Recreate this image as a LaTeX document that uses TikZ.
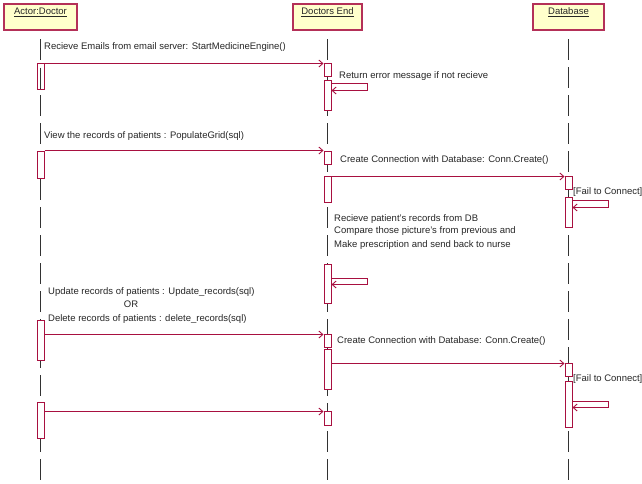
\documentclass[tikz,border=0pt]{standalone}
\usepackage{fontspec}
\setmainfont{Liberation Sans}
\usetikzlibrary{arrows.meta,calc}
\definecolor{rose}{RGB}{168,16,64}
\definecolor{headline}{RGB}{180,48,88}
\definecolor{headfill}{RGB}{255,255,204}
\definecolor{lifegray}{RGB}{50,50,50}
\begin{document}
\begin{tikzpicture}[x=1pt,y=-1pt,
  head/.style={draw=headline, line width=1.6pt, fill=headfill, minimum height=26pt, inner sep=0pt},
  headtxt/.style={font=\fontsize{9.5}{11}\selectfont, text=black!85, inner sep=0pt},
  life/.style={draw=lifegray, line width=1pt, dash pattern=on 21pt off 7pt},
  act/.style={draw=rose, fill=white, line width=1pt, minimum width=7pt, inner sep=0pt},
  msg/.style={draw=rose, line width=1.2pt, -{Straight Barb[length=4pt,width=7pt,line width=0.9pt]}},
  lbl/.style={font=\fontsize{9.5}{11}\selectfont, text=black!85, anchor=west, inner sep=0pt},
]
\useasboundingbox[fill=white] (0,0) rectangle (642,483);

% headers
\node[head, minimum width=73pt] (hA) at (40.5,17) {};
\node[head, minimum width=69pt] (hD) at (327.5,17) {};
\node[head, minimum width=71pt] (hB) at (568.5,17) {};
\node[headtxt] (tA) at (40.5,12.5) {\underline{Actor:Doctor}};
\node[headtxt] (tD) at (327.5,12.5) {\underline{Doctors End}};
\node[headtxt] (tB) at (568.5,12.5) {\underline{Database}};

% lifelines
\coordinate (topA) at (40.5,39);  \coordinate (botA) at (40.5,483);
\coordinate (topD) at (327.5,39); \coordinate (botD) at (327.5,483);
\coordinate (topB) at (568.5,39); \coordinate (botB) at (568.5,483);
\draw[life] (topA) -- (botA);
\draw[life] (topD) -- (botD);
\draw[life] (topB) -- (botB);

% activations: actor
\node[act, minimum height=26] (A1) at (40.5,76) {};
\node[act, minimum height=27] (A2) at (40.5,164.5) {};
\node[act, minimum height=40] (A3) at (40.5,340) {};
\node[act, minimum height=36] (A4) at (40.5,420) {};
\draw[lifegray, line width=0.9pt] ($(A1.north)+(0,5)$) -- ($(A1.south)+(0,-1)$);
% activations: doctors end
\node[act, minimum height=13] (D1) at (327.5,69.5) {};
\node[act, minimum height=30] (D2) at (327.5,95) {};
\node[act, minimum height=13] (D3) at (327.5,157.5) {};
\node[act, minimum height=26] (D4) at (327.5,189) {};
\node[act, minimum height=39] (D5) at (327.5,283.5) {};
\node[act, minimum height=13] (D6) at (327.5,340.5) {};
\node[act, minimum height=40] (D7) at (327.5,369) {};
\node[act, minimum height=14] (D8) at (327.5,418) {};
% activations: database
\node[act, minimum height=13] (B1) at (568.5,182.5) {};
\node[act, minimum height=30] (B2) at (568.5,212) {};
\node[act, minimum height=13] (B3) at (568.5,369.5) {};
\node[act, minimum height=46] (B4) at (568.5,404) {};

% messages
\draw[msg] ($(A1.north east)+(0,1)$) -- ($(D1.north west)+(0,1)$);
\draw[msg] (A2.north east) -- (D3.north west);
\draw[msg] ($(D4.north east)+(0,1)$) -- ($(B1.north west)+(0,1)$);
\draw[msg] ($(A3.east |- D6.north)+(0,1)$) -- ($(D6.north west)+(0,1)$);
\draw[msg] ($(D7.east |- B3.north)+(0,1)$) -- ($(B3.north west)+(0,1)$);
\draw[msg] ($(A4.east |- D8.north)+(0,1)$) -- ($(D8.north west)+(0,1)$);

% self messages
\draw[msg] ($(D2.north east)+(0,4)$) -- ++(36,0) -- ++(0,7) -- ++(-36,0);
\draw[msg] ($(B2.north east)+(0,4)$) -- ++(36,0) -- ++(0,7) -- ++(-36,0);
\draw[msg] ($(D5.north east)+(0,15)$) -- ++(36,0) -- ++(0,6) -- ++(-36,0);
\draw[msg] ($(B4.north east)+(0,21)$) -- ++(36,0) -- ++(0,6) -- ++(-36,0);

% labels
\node[lbl] (l1) at (44,47) {Recieve Emails from email server: StartMedicineEngine()};
\node[lbl] (l2) at (339,76) {Return error message if not recieve};
\node[lbl] (l3) at (44,136.5) {View the records of patients : PopulateGrid(sql)};
\node[lbl] (l4) at (340,160.5) {Create Connection with Database: Conn.Create()};
\node[lbl] (l5) at (573,192.5) {[Fail to Connect]};
\node[lbl] (l6a) at (334,219) {Recieve patient's records from DB};
\node[lbl] (l6b) at (334,231.5) {Compare those picture's from previous and};
\node[lbl] (l6c) at (334,245.5) {Make prescription and send back to nurse};
\node[lbl] (l7a) at (48,292) {Update records of patients : Update\_records(sql)};
\node[lbl, anchor=center] (l7b) at (131,304.5) {OR};
\node[lbl] (l7c) at (48,319.5) {Delete records of patients : delete\_records(sql)};
\node[lbl] (l8) at (337,341) {Create Connection with Database: Conn.Create()};
\node[lbl] (l9) at (573,379) {[Fail to Connect]};
\end{tikzpicture}
\end{document}
